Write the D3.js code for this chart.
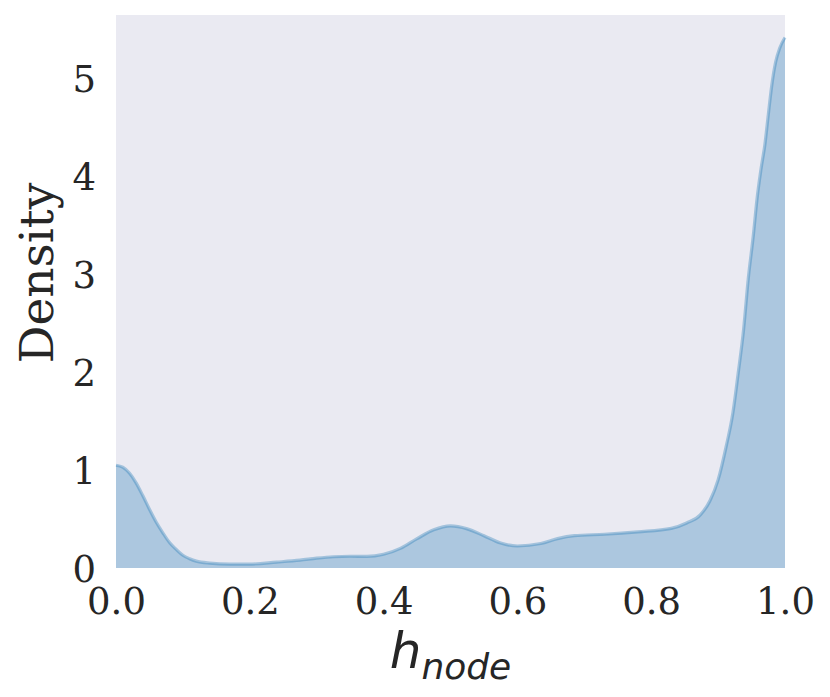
<!DOCTYPE html>
<html>
<head>
<meta charset="utf-8">
<script src="https://cdn.jsdelivr.net/npm/d3@7"></script>
<style>
  html, body { margin: 0; padding: 0; background: #ffffff; }
  svg { display: block; }
</style>
</head>
<body>
<svg id="chart" width="830" height="697"></svg>
<script>
// ---- data ----
const hValues = [0, 0.01, 0.02, 0.03, 0.04, 0.05, 0.06, 0.07, 0.08, 0.09, 0.10, 0.11, 0.12, 0.14, 0.17, 0.20, 0.24, 0.275, 0.30, 0.325, 0.35, 0.375, 0.40, 0.425, 0.45, 0.475, 0.50, 0.525, 0.55, 0.575, 0.60, 0.635, 0.66, 0.685, 0.73, 0.78, 0.83, 0.853, 0.873, 0.888, 0.90, 0.912, 0.922, 0.930, 0.938, 0.945, 0.953, 0.958, 0.964, 0.970, 0.975, 0.980, 0.986, 0.992, 1.0];
const densityValues = [1.05, 1.03, 0.97, 0.87, 0.74, 0.60, 0.47, 0.36, 0.26, 0.19, 0.13, 0.095, 0.07, 0.05, 0.04, 0.04, 0.06, 0.08, 0.10, 0.115, 0.12, 0.118, 0.14, 0.20, 0.30, 0.39, 0.43, 0.40, 0.33, 0.255, 0.225, 0.25, 0.30, 0.33, 0.345, 0.37, 0.405, 0.46, 0.54, 0.69, 0.90, 1.24, 1.58, 1.99, 2.43, 2.95, 3.42, 3.76, 4.07, 4.33, 4.63, 4.92, 5.17, 5.31, 5.42];
const xTicks = [0, 0.2, 0.4, 0.6, 0.8, 1.0];
const yTicks = [0, 1, 2, 3, 4, 5];
const xLabelMain = "h";
const xLabelSub = "node";
const yLabel = "Density";

// ---- layout ----
const W = 830, H = 697;
const margin = { left: 116, top: 15, right: 45, bottom: 129 };
const pw = W - margin.left - margin.right;
const ph = H - margin.top - margin.bottom;

const svg = d3.select("#chart");
const g = svg.append("g").attr("transform", `translate(${margin.left},${margin.top})`);

const x = d3.scaleLinear().domain([0, 1]).range([0, pw]);
const y = d3.scaleLinear().domain([0, 5.65]).range([ph, 0]);

g.append("rect").attr("width", pw).attr("height", ph).attr("fill", "#eaeaf2");

const pts = hValues.map((v, i) => ({ h: v, d: densityValues[i] }));

const area = d3.area().x(d => x(d.h)).y0(y(0)).y1(d => y(d.d)).curve(d3.curveMonotoneX);
const line = d3.line().x(d => x(d.h)).y(d => y(d.d)).curve(d3.curveMonotoneX);

g.append("path").datum(pts).attr("d", area)
  .attr("fill", "#1f77b4").attr("fill-opacity", 0.3);
g.append("path").datum(pts).attr("d", line)
  .attr("fill", "none").attr("stroke", "#1f77b4").attr("stroke-opacity", 0.35)
  .attr("stroke-width", 3.2);

// axes
const tickFont = "'DejaVu Serif', serif";
const xAxis = g.append("g").attr("transform", `translate(0,${ph})`)
  .call(d3.axisBottom(x).tickValues(xTicks).tickFormat(d3.format(".1f")).tickSize(0).tickPadding(20));
const yAxis = g.append("g")
  .call(d3.axisLeft(y).tickValues(yTicks).tickFormat(d3.format("d")).tickSize(0).tickPadding(20));
[xAxis, yAxis].forEach(a => {
  a.select(".domain").remove();
  a.selectAll("text").attr("font-family", tickFont).attr("font-size", 37).attr("fill", "#262626");
});
yAxis.selectAll("text").attr("dy", "0.36em");

// axis labels
svg.append("text")
  .attr("transform", `translate(53,273) rotate(-90)`)
  .attr("text-anchor", "middle")
  .attr("font-family", tickFont).attr("font-size", 47).attr("fill", "#262626")
  .text(yLabel);

const xl = svg.append("text")
  .attr("x", margin.left + pw / 2).attr("y", 668)
  .attr("text-anchor", "middle")
  .attr("font-family", "'DejaVu Sans', sans-serif").attr("font-style", "italic")
  .attr("fill", "#262626");
xl.append("tspan").attr("font-size", 50).text(xLabelMain);
xl.append("tspan").attr("font-size", 36).attr("dy", 11).text(xLabelSub);
</script>
</body>
</html>
